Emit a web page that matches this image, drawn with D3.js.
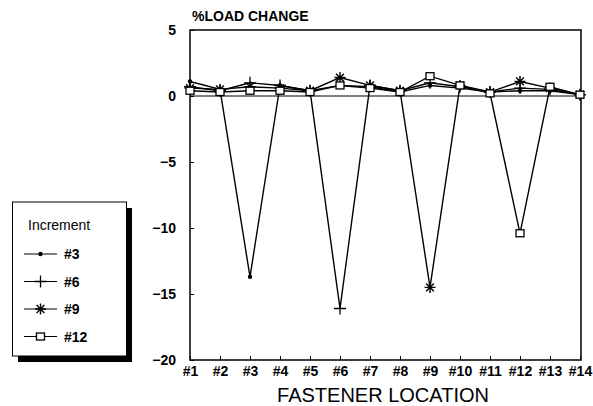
<!DOCTYPE html>
<html><head><meta charset="utf-8">
<script src="https://cdn.jsdelivr.net/npm/d3@7"></script>
<style>body{margin:0;background:#fff}svg{display:block}text{font-family:"Liberation Sans",Arial,sans-serif}</style>
</head><body>
<svg id="c" width="593" height="406"></svg>
<script>
const locations = ["#1","#2","#3","#4","#5","#6","#7","#8","#9","#10","#11","#12","#13","#14"];
const yTicks = [5, 0, -5, -10, -15, -20];
const seriesNames = ["#3", "#6", "#9", "#12"];
const inc3  = [1.1, 0.5, -13.7, 0.8, 0.4, 0.8, 0.7, 0.3, 0.8, 0.6, 0.3, 0.4, 0.4, 0.1];
const inc6  = [0.7, 0.4, 1.0, 0.8, 0.4, -16.1, 0.8, 0.4, 1.0, 0.7, 0.3, 0.6, 0.5, 0.1];
const inc9  = [0.6, 0.5, 0.7, 0.6, 0.4, 1.4, 0.8, 0.4, -14.5, 0.8, 0.3, 1.1, 0.6, 0.1];
const inc12 = [0.4, 0.3, 0.4, 0.4, 0.3, 0.8, 0.6, 0.3, 1.5, 0.8, 0.2, -10.4, 0.7, 0.1];
const seriesData = [inc3, inc6, inc9, inc12];
const markers = ["dot", "plus", "star", "square"];

const svg = d3.select("#c");
const L = 190, R = 580, T = 30, B = 360;
const x = d3.scalePoint().domain(locations).range([L, R]);
const y = d3.scaleLinear().domain([-20, 5]).range([B, T]);

// frame
svg.append("rect").attr("x", L).attr("y", T).attr("width", R - L + 1).attr("height", B - T)
  .attr("fill", "none").attr("stroke", "#000").attr("stroke-width", 1.5);

// y axis
const yAxis = d3.axisLeft(y).tickValues(yTicks).tickSize(-4).tickPadding(14).tickFormat(d3.format("d"));
const gy = svg.append("g").attr("transform", `translate(${L},0)`).call(yAxis);
gy.select(".domain").remove();
gy.selectAll("line").attr("stroke", "#000").attr("stroke-width", 1);
gy.selectAll("text").attr("font-size", 14).attr("font-weight", "bold").attr("fill", "#000");

// x axis
const xAxis = d3.axisBottom(x).tickSize(-4).tickPadding(6);
const gx = svg.append("g").attr("transform", `translate(0,${B})`).call(xAxis);
gx.select(".domain").remove();
gx.selectAll("line").attr("stroke", "#000");
gx.selectAll("text").attr("font-size", 14).attr("font-weight", "bold").attr("fill", "#000");

// zero line
svg.append("line").attr("x1", L).attr("x2", R).attr("y1", y(0)).attr("y2", y(0))
  .attr("stroke", "#000").attr("stroke-width", 1.2);

// titles
svg.append("text").attr("x", 192).attr("y", 21).attr("font-size", 14).attr("font-weight", "bold").text("%LOAD CHANGE");
svg.append("text").attr("x", (L + R) / 2 - 2).attr("y", 402).attr("text-anchor", "middle").attr("font-size", 20).text("FASTENER LOCATION");

function drawMarker(g, type, cx, cy) {
  if (type === "dot") {
    g.append("circle").attr("cx", cx).attr("cy", cy).attr("r", 2.2).attr("fill", "#000");
  } else if (type === "plus") {
    g.append("path").attr("d", `M${cx-6},${cy}H${cx+6}M${cx},${cy-6}V${cy+6}`).attr("stroke", "#000").attr("stroke-width", 1.3).attr("fill", "none");
  } else if (type === "star") {
    const r = 5.5;
    let d = "";
    for (let k = 0; k < 4; k++) {
      const a = k * Math.PI / 4;
      d += `M${cx - r*Math.cos(a)},${cy - r*Math.sin(a)}L${cx + r*Math.cos(a)},${cy + r*Math.sin(a)}`;
    }
    g.append("path").attr("d", d).attr("stroke", "#000").attr("stroke-width", 1.4).attr("fill", "none");
  } else {
    g.append("rect").attr("x", cx - 4).attr("y", cy - 3.5).attr("width", 8).attr("height", 7)
      .attr("fill", "#fff").attr("stroke", "#000").attr("stroke-width", 1.3);
  }
}

const line = d3.line().x((d, i) => x(locations[i])).y(d => y(d));
seriesData.forEach((vals, si) => {
  svg.append("path").datum(vals).attr("d", line).attr("fill", "none").attr("stroke", "#000").attr("stroke-width", 1.4);
});
seriesData.forEach((vals, si) => {
  const g = svg.append("g");
  vals.forEach((v, i) => drawMarker(g, markers[si], x(locations[i]), y(v)));
});

// legend
const lg = svg.append("g");
lg.append("rect").attr("x", 18).attr("y", 208).attr("width", 114).attr("height", 154).attr("fill", "#000");
lg.append("rect").attr("x", 12.5).attr("y", 202).attr("width", 114).attr("height", 154).attr("fill", "#fff").attr("stroke", "#000").attr("stroke-width", 1);
lg.append("text").attr("x", 28).attr("y", 230).attr("font-size", 14).text("Increment");
seriesNames.forEach((n, i) => {
  const yy = 254 + i * 27.5;
  lg.append("line").attr("x1", 24).attr("x2", 57).attr("y1", yy).attr("y2", yy).attr("stroke", "#000").attr("stroke-width", 1);
  drawMarker(lg, markers[i], 40.5, yy);
  lg.append("text").attr("x", 64).attr("y", yy + 5).attr("font-size", 14).attr("font-weight", "bold").text(n);
});
</script>
</body></html>
